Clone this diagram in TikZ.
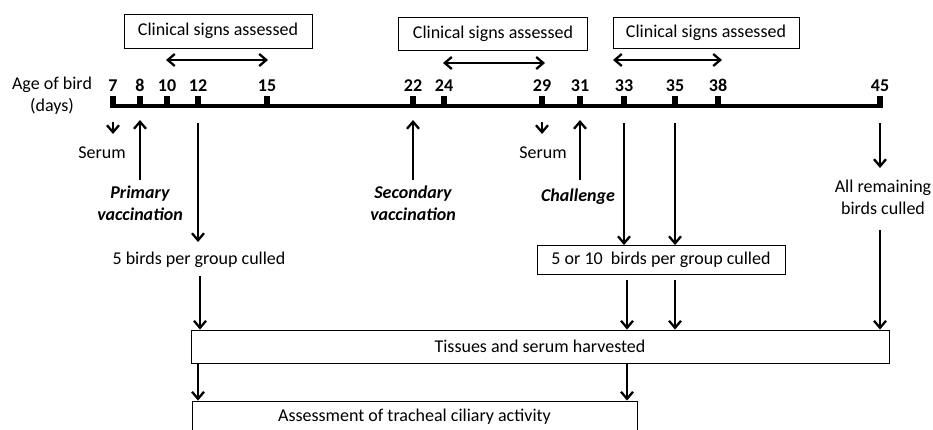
\documentclass[tikz,border=0pt]{standalone}
\usepackage{fontspec}
\setmainfont{Carlito}
\usetikzlibrary{arrows.meta,calc,positioning}

\tikzset{
  box/.style={draw, line width=0.9pt, inner sep=0pt, align=center},
  lbl/.style={inner sep=0pt, align=center},
  day/.style={inner sep=0pt, anchor=base, font=\fontsize{18}{22}\selectfont\bfseries},
  vac/.style={inner sep=0pt, align=center, font=\fontsize{18}{22}\selectfont\bfseries\itshape},
  arr/.style={line width=2.3pt, -{Straight Barb[length=7pt,width=12pt]}},
  darr/.style={line width=2.3pt, {Straight Barb[length=7pt,width=12pt]}-{Straight Barb[length=7pt,width=12pt]}},
}

\begin{document}
\begin{tikzpicture}[x=1pt,y=-1pt,font=\fontsize{18}{22}\selectfont]
\useasboundingbox (0,0) rectangle (933,430);

% time axis with day ticks
\draw[line width=4.8pt] (110,106) -- (883,106);
\foreach \d/\x in {7/113,8/140,10/167,12/198,15/267,22/413,24/444,29/542,31/580,33/624,35/675,38/718,45/880}{
  \fill (\x-3.3,96) rectangle (\x+3.3,106);
  \coordinate (t\d) at (\x,106);
  \node[day] (n\d) at (\x,92) {\d};
}
\node[lbl] (age) at (52,96) {Age of bird\\(days)};

% clinical signs periods
\node[box, minimum width=188pt, minimum height=34pt] (cs1) at (218,31) {Clinical signs assessed};
\node[box, minimum width=189pt, minimum height=33pt] (cs2) at (493,34) {Clinical signs assessed};
\node[box, minimum width=186pt, minimum height=31pt] (cs3) at (706,33) {Clinical signs assessed};
\coordinate (a1) at (166,60); \coordinate (b1) at (268,60);
\coordinate (a2) at (443,63); \coordinate (b2) at (545,63);
\coordinate (a3) at (613,60); \coordinate (b3) at (722,60);
\draw[darr] (a1) -- (b1);
\draw[darr] (a2) -- (b2);
\draw[darr] (a3) -- (b3);

% events below the axis
\node[lbl] (serum1) at (102,153) {Serum};
\node[lbl] (serum2) at (543,153) {Serum};
\draw[arr] ($(t7)+(0,16)$) -- ++(0,12);
\draw[arr] ($(t29)+(0,16)$) -- ++(0,12);

\node[vac] (prim) at (140,203) {Primary\\vaccination};
\node[vac] (sec) at (413,203) {Secondary\\vaccination};
\node[vac] (chal) at (578,197) {Challenge};
\draw[arr] ($(t8)+(0,74)$) -- ($(t8)+(0,14)$);
\draw[arr] ($(t22)+(0,74)$) -- ($(t22)+(0,14)$);
\draw[arr] ($(t31)+(0,74)$) -- ($(t31)+(0,14)$);

\node[lbl] (cull5) at (199,260) {5 birds per group culled};
\node[box, minimum width=248pt, minimum height=29pt] (cull10) at (661,260) {5 or 10~ birds per group culled};
\node[lbl] (cullall) at (883,197) {All remaining\\birds culled};
\draw[arr] ($(t12)+(0,17)$) -- ($(t12)+(0,136)$);
\draw[arr] ($(t33)+(0,17)$) -- (t33 |- cull10.north);
\draw[arr] ($(t35)+(0,17)$) -- (t35 |- cull10.north);
\draw[arr] ($(t45)+(0,17)$) -- ($(t45)+(0,62)$);

% harvest and assessment
\node[box, minimum width=698pt, minimum height=33pt] (tissue) at (540,346.5) {Tissues and serum harvested};
\node[box, minimum width=445pt, minimum height=32pt] (cilia) at (414.5,417) {Assessment of tracheal ciliary activity};
\draw[arr] ($(t12 |- cull5.south)+(2,8)$) -- ($(t12 |- tissue.north)+(2,0)$);
\draw[arr] ($(t33 |- cull10.south)+(3,5)$) -- ($(t33 |- tissue.north)+(3,0)$);
\draw[arr] ($(t35 |- cull10.south)+(0,5)$) -- (t35 |- tissue.north);
\draw[arr] ($(t45)+(0,124)$) -- (t45 |- tissue.north);
\draw[arr] (t12 |- tissue.south) -- (t12 |- cilia.north);
\draw[arr] ($(t33 |- tissue.south)+(3,0)$) -- ($(t33 |- cilia.north)+(3,0)$);
\end{tikzpicture}
\end{document}
